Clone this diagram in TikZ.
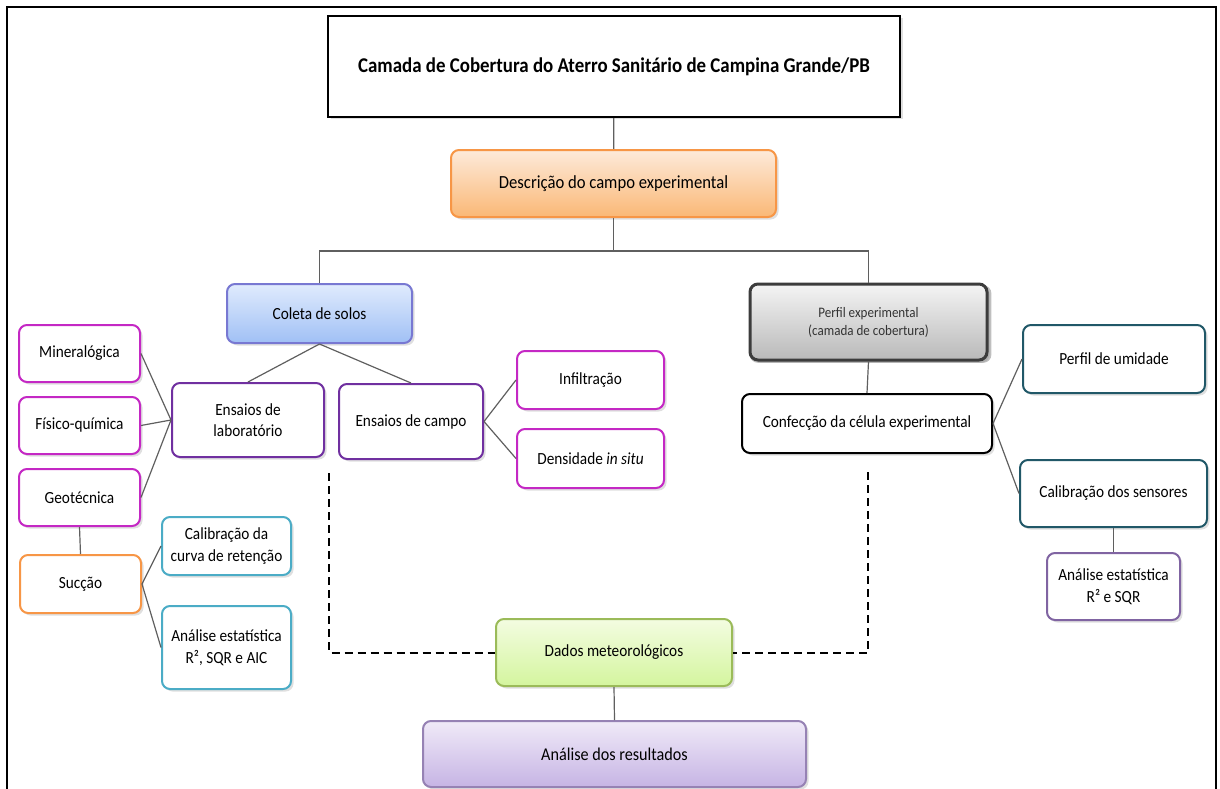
\documentclass[tikz,border=0pt]{standalone}
\usepackage{fontspec}
\setmainfont{Carlito}[FakeStretch=0.9]
\usetikzlibrary{positioning, shadows, calc}
\definecolor{magentaB}{RGB}{196,40,196}
\definecolor{purpleB}{RGB}{112,48,160}
\definecolor{blueB}{RGB}{120,120,210}
\definecolor{blueT}{RGB}{224,235,253}
\definecolor{blueF}{RGB}{160,192,245}
\definecolor{orangeB}{RGB}{247,150,70}
\definecolor{orangeT}{RGB}{253,234,218}
\definecolor{orangeF}{RGB}{250,184,118}
\definecolor{grayB}{RGB}{60,60,60}
\definecolor{grayT}{RGB}{244,244,244}
\definecolor{grayF}{RGB}{185,185,185}
\definecolor{tealB}{RGB}{33,88,104}
\definecolor{cyanB}{RGB}{75,172,198}
\definecolor{violetB}{RGB}{128,100,162}
\definecolor{greenB}{RGB}{155,187,89}
\definecolor{greenT}{RGB}{243,252,225}
\definecolor{greenF}{RGB}{212,245,158}
\definecolor{lavB}{RGB}{150,130,180}
\definecolor{lavT}{RGB}{240,234,248}
\definecolor{lavF}{RGB}{198,180,228}
\definecolor{connC}{RGB}{95,95,95}

\begin{document}
\begin{tikzpicture}[x=1pt, y=-1pt,
    node distance=13pt,
    every node/.style={draw, rounded corners=8pt, line width=2pt, fill=white, align=center, inner sep=2pt, font=\fontsize{17}{21.5}\selectfont, drop shadow={shadow xshift=2.5pt, shadow yshift=-2.5pt, opacity=0.25}},
    titlebox/.style={sharp corners, draw=black, line width=2.4pt, font=\fontsize{21}{24}\selectfont\bfseries},
    descbox/.style={draw=orangeB, top color=orangeT, bottom color=orangeF, font=\fontsize{18.5}{22}\selectfont},
    colbox/.style={draw=blueB, top color=blueT, bottom color=blueF},
    perfbox/.style={draw=grayB, line width=3pt, top color=grayT, bottom color=grayF, text=black!80, font=\fontsize{14.5}{18}\selectfont, drop shadow={shadow xshift=2pt, shadow yshift=-2pt, shadow scale=1.02, opacity=0.5}},
    blackbox/.style={draw=black},
    pinkbox/.style={draw=magentaB},
    purplebox/.style={draw=purpleB},
    orangebox/.style={draw=orangeB},
    cyanbox/.style={draw=cyanB},
    tealbox/.style={draw=tealB},
    violetbox/.style={draw=violetB},
    meteobox/.style={draw=greenB, top color=greenT, bottom color=greenF},
    resbox/.style={draw=lavB, top color=lavT, bottom color=lavF, font=\fontsize{18}{22}\selectfont},
    conn/.style={draw=connC, line width=1.2pt},
    dashconn/.style={draw=black, line width=2pt, dash pattern=on 8pt off 5pt}
]
\useasboundingbox (0,0) rectangle (1220,789);

\draw[line width=2.5pt] (7,800) -- (7,7) -- (1216,7) -- (1216,800);

\node[titlebox, minimum width=572pt, minimum height=101pt] (title) at (614,66.5) {Camada de Cobertura do Aterro Sanitário de Campina Grande/PB};
\node[descbox, minimum width=325pt, minimum height=67pt] (desc) at (613.5,183.5) {Descrição do campo experimental};

\node[colbox, minimum width=185pt, minimum height=59pt] (coleta) at (319.5,313.5) {Coleta de solos};
\node[purplebox, minimum width=152pt, minimum height=74pt] (lab) at (248,420) {Ensaios de\\laboratório};
\node[purplebox, minimum width=144pt, minimum height=75pt] (campo) at (411,421.5) {Ensaios de campo};

\node[pinkbox, minimum width=121pt, minimum height=57pt] (mineral) at (79.5,353.5) {Mineralógica};
\node[pinkbox, minimum width=121pt, minimum height=57pt, below=of mineral] (fisico) {Físico-química};
\node[pinkbox, minimum width=121pt, minimum height=57pt, below=of fisico] (geotec) {Geotécnica};
\node[orangebox, minimum width=121pt, minimum height=58pt] (succao) at (80.5,584) {Sucção};
\node[cyanbox, minimum width=129pt, minimum height=58pt] (curva) at (226.5,546) {Calibração da\\curva de retenção};
\node[cyanbox, minimum width=129pt, minimum height=83pt] (estatAIC) at (226.5,647.5) {Análise estatística\\R², SQR e AIC};

\node[pinkbox, minimum width=147pt, minimum height=58pt] (infiltr) at (590.5,380) {Infiltração};
\node[pinkbox, minimum width=147pt, minimum height=59pt, below=18pt of infiltr] (densid) {Densidade \textit{in situ}};

\node[perfbox, minimum width=237pt, minimum height=76pt] (perfil) at (868.5,322) {Perfil experimental\\(camada de cobertura)};
\node[blackbox, minimum width=250pt, minimum height=59pt] (confec) at (867,423.5) {Confecção da célula experimental};
\node[tealbox, minimum width=182pt, minimum height=68pt] (umidade) at (1114,359) {Perfil de umidade};
\node[tealbox, minimum width=187pt, minimum height=67pt] (sensores) at (1113.5,493.5) {Calibração dos sensores};
\node[violetbox, minimum width=133pt, minimum height=67pt] (estatR) at (1113.5,586.5) {Análise estatística\\R² e SQR};

\node[meteobox, minimum width=236pt, minimum height=67pt] (dados) at (614,652.5) {Dados meteorológicos};
\node[resbox, minimum width=383pt, minimum height=66pt] (result) at (614.5,754) {Análise dos resultados};

\path (desc.south) ++(0,33) coordinate (split);
\coordinate (dashL) at (329,473);
\coordinate (dashR) at (868,472);

\draw[conn] (title) -- (desc);
\draw[conn] (desc.south) -- (split);
\draw[conn] (split) -| (coleta.north);
\draw[conn] (split) -| (perfil.north);
\draw[conn] (coleta.south) -- (lab.north);
\draw[conn] (coleta.south) -- (campo.north);
\draw[conn] (mineral.east) -- (lab.west);
\draw[conn] (fisico.east) -- (lab.west);
\draw[conn] (geotec.east) -- (lab.west);
\draw[conn] (geotec.south) -- (succao.north);
\draw[conn] (succao.east) -- (curva.west);
\draw[conn] (succao.east) -- (estatAIC.west);
\draw[conn] (campo.east) -- (infiltr.west);
\draw[conn] (campo.east) -- (densid.west);
\draw[conn] (perfil.south) -- (confec.north);
\draw[conn] (confec.east) -- (umidade.west);
\draw[conn] (confec.east) -- (sensores.west);
\draw[conn] (sensores.south) -- (estatR.north);
\draw[conn] (dados.south) -- (result.north);

\draw[dashconn] (dashL) |- (dados.west);
\draw[dashconn] (dashR) |- (dados.east);

\end{tikzpicture}
\end{document}
